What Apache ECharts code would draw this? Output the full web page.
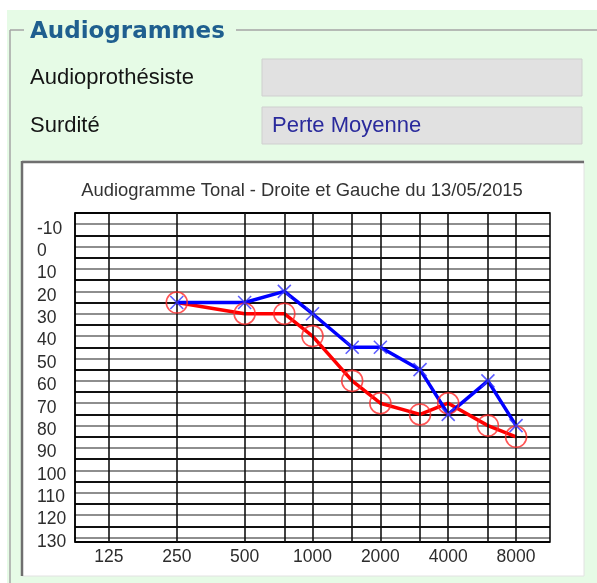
<!DOCTYPE html>
<html><head><meta charset="utf-8">
<script src="https://cdn.jsdelivr.net/npm/echarts@6/dist/echarts.min.js"></script>
<style>html,body{margin:0;padding:0;background:#fff}#c{width:597px;height:583px}</style>
</head><body><div id="c"></div>
<script>
// ---- data ----
const frequencies = [250, 500, 750, 1000, 1500, 2000, 3000, 4000, 6000, 8000];
const droite = [25, 30, 30, 40, 60, 70, 75, 70, 80, 85];   // red circles
const gauche = [25, 25, 20, 30, 45, 45, 55, 75, 60, 80];   // blue crosses
const gridFrequencies = [125, 250, 500, 750, 1000, 1500, 2000, 3000, 4000, 6000, 8000];
const xTickLabels = [125, 250, 500, 1000, 2000, 4000, 8000];
const yTickLabels = [-10, 0, 10, 20, 30, 40, 50, 60, 70, 80, 90, 100, 110, 120, 130];
const chartTitle = 'Audiogramme Tonal - Droite et Gauche du 13/05/2015';

const chart = echarts.init(document.getElementById('c'), null, {renderer: 'canvas'});
const F = 'Liberation Sans, Arial, sans-serif';
const pair = arr => frequencies.map((f, i) => [f, arr[i]]);

const graphics = [
  {type: 'rect', z: -10, shape: {x: 7, y: 10, width: 590, height: 573}, style: {fill: '#e6fbe6'}},
  // group box etched lines
  {type: 'line', shape: {x1: 10, y1: 30, x2: 24, y2: 30}, style: {stroke: '#a4a4a4', lineWidth: 1.5}},
  {type: 'line', shape: {x1: 236, y1: 30, x2: 597, y2: 30}, style: {stroke: '#a4a4a4', lineWidth: 1.5}},
  {type: 'line', shape: {x1: 10, y1: 30, x2: 10, y2: 583}, style: {stroke: '#a4a4a4', lineWidth: 1.5}},
  {type: 'text', style: {x: 30, y: 32, text: 'Audiogrammes', font: 'bold 23px DejaVu Sans', fill: '#1f5f8f', textVerticalAlign: 'middle'}},
  {type: 'text', style: {x: 30, y: 78, text: 'Audioprothésiste', font: '22px ' + F, fill: '#151515', textVerticalAlign: 'middle'}},
  {type: 'text', style: {x: 30, y: 126, text: 'Surdité', font: '22px ' + F, fill: '#151515', textVerticalAlign: 'middle'}},
  {type: 'rect', shape: {x: 262, y: 59, width: 320, height: 37}, style: {fill: '#e1e1e1', stroke: '#cfcfcf', lineWidth: 1}},
  {type: 'rect', shape: {x: 262, y: 107, width: 320, height: 37}, style: {fill: '#e1e1e1', stroke: '#cfcfcf', lineWidth: 1}},
  {type: 'text', style: {x: 272, y: 126, text: 'Perte Moyenne', font: '22px ' + F, fill: '#2a2a9c', textVerticalAlign: 'middle'}},
  // chart panel
  {type: 'rect', z: -9, shape: {x: 22, y: 161, width: 562, height: 415}, style: {fill: '#ffffff', stroke: '#e2e2e2', lineWidth: 1}},
  {type: 'line', z: -8, shape: {x1: 22, y1: 162, x2: 584, y2: 162}, style: {stroke: '#6f6f6f', lineWidth: 2.5}},
  {type: 'line', z: -8, shape: {x1: 22, y1: 161, x2: 22, y2: 576}, style: {stroke: '#6f6f6f', lineWidth: 2.5}},
  {type: 'text', style: {x: 302, y: 191, text: chartTitle, font: '18.4px ' + F, fill: '#333333', textAlign: 'center', textVerticalAlign: 'middle'}}
];

chart.setOption({
  animation: false,
  backgroundColor: '#ffffff',
  graphic: graphics,
  grid: {left: 75, top: 213, width: 475, height: 329, show: true, borderColor: '#000', borderWidth: 1.5, backgroundColor: 'transparent', z: 1},
  xAxis: {
    type: 'log', logBase: 2, min: 125 / Math.SQRT2, max: 8000 * Math.SQRT2,
    axisLine: {show: false}, axisTick: {show: false}, splitLine: {show: false},
    axisLabel: {customValues: xTickLabels, margin: 6, fontFamily: F, fontSize: 17.5, color: '#2d2d2d', formatter: v => String(Math.round(v))}
  },
  yAxis: {
    type: 'value', inverse: true, min: -15, max: 132, interval: 5,
    axisLine: {show: true, lineStyle: {color: '#000', width: 1.5}}, axisTick: {show: false},
    splitLine: {show: true, lineStyle: {color: ['#111111', '#8e8e8e'], width: 1.8}},
    axisLabel: {
      align: 'left', verticalAlign: 'top', lineHeight: 9, margin: 38, fontFamily: F, fontSize: 17.5, color: '#2d2d2d',
      showMaxLabel: false,
      formatter: v => (yTickLabels.indexOf(v) >= 0 ? String(v) : '')
    }
  },
  series: [
    {
      type: 'scatter', data: [], z: 1, silent: true,
      markLine: {
        silent: true, symbol: 'none', label: {show: false},
        lineStyle: {color: '#111', width: 1.6, type: 'solid'},
        data: gridFrequencies.map(f => ({xAxis: f}))
      }
    },
    {type: 'line', data: pair(droite), z: 3, symbol: 'none', lineStyle: {color: '#ff0000', width: 3.5}},
    {type: 'line', data: pair(gauche), z: 4, symbol: 'none', lineStyle: {color: '#0000ff', width: 3.5}},
    {type: 'scatter', data: pair(droite), z: 5, symbol: 'circle', symbolSize: 21,
      itemStyle: {color: 'rgba(0,0,0,0)', borderColor: '#ff2b2b', borderWidth: 1.6}},
    {type: 'scatter', data: pair(gauche), z: 6, symbol: 'path://M0,0L10,10M10,0L0,10', symbolSize: 13,
      itemStyle: {color: 'rgba(0,0,0,0)', borderColor: '#3535ff', borderWidth: 1.6}}
  ]
});
</script></body></html>
